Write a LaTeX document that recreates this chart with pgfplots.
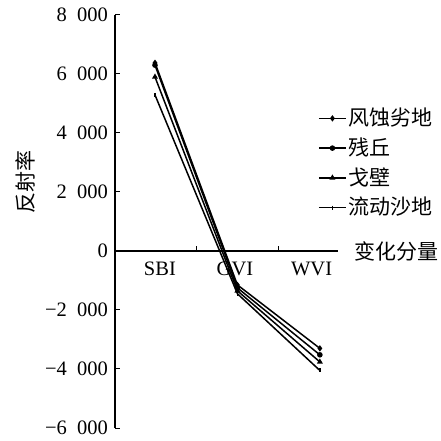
\documentclass[border=0pt]{standalone}
\usepackage{pgfplots}
\pgfplotsset{compat=1.18}
\usepackage{fontspec}
\setmainfont{Liberation Serif}
\newfontfamily\cjk{Noto Sans CJK SC}
\begin{document}
\fontsize{20.5bp}{24bp}\selectfont
\begin{tikzpicture}
\useasboundingbox (0,0) rectangle (441bp,441bp);
\begin{axis}[
  at={(115bp,13bp)}, anchor=south west,
  scale only axis, width=223bp, height=413bp,
  xmin=-0.485, xmax=2.22, ymin=-6000, ymax=8000,
  axis x line=middle, axis y line=left,
  axis line style={-, line width=1.3bp},
  xtick={0.5,1.5}, xticklabels={},
  extra x ticks={0.06,0.97,1.9},
  extra x tick labels={SBI,GVI,WVI},
  extra x tick style={major tick length=0pt},
  ytick={-6000,-4000,...,8000},
  yticklabels={−6\hspace{0.5em}000,−4\hspace{0.5em}000,−2\hspace{0.5em}000,0,2\hspace{0.5em}000,4\hspace{0.5em}000,6\hspace{0.5em}000,8\hspace{0.5em}000},
  tick align=inside,
  major tick length=5bp,
  tick style={line width=1bp, black},
  yticklabel style={font=\fontsize{20.5bp}{24bp}\selectfont},
  xticklabel style={font=\fontsize{20.5bp}{24bp}\selectfont, yshift=-4bp},
  legend style={draw=none, fill=none, at={(0.91,0.78)}, anchor=north west,
    font=\cjk\fontsize{21bp}{24bp}\selectfont, row sep=5bp, inner sep=0pt,
    /tikz/every even column/.append style={column sep=2bp}},
  legend cell align=left,
  legend image code/.code={
    \draw[#1, mark=none, line width=1.6bp] (0bp,0bp) -- (27bp,0bp);
    \draw[#1, only marks] plot coordinates {(13.5bp,0bp)};
  },
  clip=false,
]
\addplot[black, line width=1.5bp, mark size=2bp, mark=diamond*] coordinates {(0,6380) (1,-1150) (2,-3300)};
\addlegendentry{风蚀劣地}
\addplot[black, line width=1.5bp, mark size=2bp, mark=*] coordinates {(0,6300) (1,-1250) (2,-3520)};
\addlegendentry{残丘}
\addplot[black, line width=1.5bp, mark size=2bp, mark=triangle*] coordinates {(0,5900) (1,-1350) (2,-3760)};
\addlegendentry{戈壁}
\addplot[black, line width=1.5bp, mark size=2bp, mark=|] coordinates {(0,5290) (1,-1450) (2,-4050)};
\addlegendentry{流动沙地}
\node[anchor=west, font=\cjk\fontsize{21bp}{24bp}\selectfont] at (axis cs:2.22,0) [xshift=9bp] {变化分量};
\end{axis}
\node[rotate=90, font=\cjk\fontsize{21bp}{24bp}\selectfont] at (25bp,259bp) {反射率};
\end{tikzpicture}
\end{document}
